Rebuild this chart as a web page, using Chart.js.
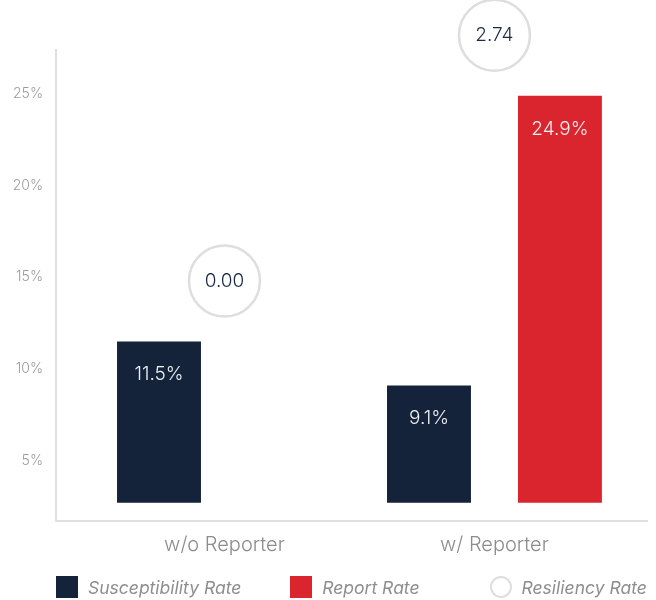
<!DOCTYPE html>
<html>
<head>
<meta charset="utf-8">
<script src="https://cdn.jsdelivr.net/npm/chart.js@4.4.1/dist/chart.umd.min.js"></script>
<style>
  body { margin: 0; background: #fff; }
  #wrap { position: relative; width: 656px; height: 600px; }
  #legend {
    position: absolute; left: 56px; top: 576px;
    display: flex; align-items: center;
    font-family: Inter, sans-serif; font-style: italic; font-size: 17.5px; color: #8e8e8e;
  }
  #legend .item { display: flex; align-items: center; height: 22px; }
  #legend .item:nth-child(2) { margin-left: 49px; }
  #legend .item:nth-child(3) { margin-left: 70px; }
  #legend .swatch { width: 22px; height: 22px; margin-right: 10px; box-sizing: border-box; }
</style>
</head>
<body>
<div id="wrap">
  <canvas id="myChart" width="656" height="600"></canvas>
  <div id="legend"></div>
</div>
<script>
// data
const categories = ['w/o Reporter', 'w/ Reporter'];
const susceptibilityRate = [11.5, 9.1];
const reportRate = [null, 24.9];
const resiliencyRate = [0.00, 2.74];
const yTicks = [5, 10, 15, 20, 25];

const NAVY = '#14233a';
const RED = '#da252f';
const BAR_BASE = 2.7;      // bars sit a little above the axis line
const BUBBLE_GAP = 3.3;    // bubble floats above the tallest bar of its group

function toPoints(values) {
  return values
    .map((v, i) => ({ x: i, y: v }))
    .filter(p => p.y !== null);
}

const bubblePoints = resiliencyRate.map((v, i) => ({
  x: i,
  y: Math.max(susceptibilityRate[i] || 0, reportRate[i] || 0) + BUBBLE_GAP
}));

// text inside the bars and the bubbles
const valueLabels = {
  id: 'valueLabels',
  afterDatasetsDraw(chart) {
    const ctx = chart.ctx;
    ctx.save();
    ctx.textAlign = 'center';
    ctx.textBaseline = 'middle';
    ctx.font = '300 19px Inter, sans-serif';
    chart.data.datasets.forEach((ds, i) => {
      const meta = chart.getDatasetMeta(i);
      meta.data.forEach((el, j) => {
        if (ds.type === 'bubble') {
          ctx.fillStyle = '#1c2b45';
          ctx.fillText(resiliencyRate[ds.data[j].x].toFixed(2), el.x, el.y);
        } else {
          ctx.fillStyle = '#eef0f4';
          ctx.fillText(ds.data[j].y.toFixed(1) + '%', el.x, el.y + 33);
        }
      });
    });
    ctx.restore();
  }
};

// html legend built from the datasets
const htmlLegend = {
  id: 'htmlLegend',
  afterUpdate(chart) {
    const box = document.getElementById('legend');
    box.innerHTML = '';
    chart.data.datasets.forEach(ds => {
      const item = document.createElement('div');
      item.className = 'item';
      const sw = document.createElement('span');
      sw.className = 'swatch';
      if (ds.type === 'bubble') {
        sw.style.border = '2.5px solid ' + ds.borderColor;
        sw.style.borderRadius = '50%';
        sw.style.background = ds.backgroundColor;
      } else {
        sw.style.background = ds.backgroundColor;
      }
      const txt = document.createElement('span');
      txt.textContent = ds.label;
      item.appendChild(sw);
      item.appendChild(txt);
      box.appendChild(item);
    });
  }
};

const ctx = document.getElementById('myChart').getContext('2d');

new Chart(ctx, {
  type: 'bar',
  data: {
    datasets: [
      {
        label: 'Susceptibility Rate',
        data: toPoints(susceptibilityRate),
        backgroundColor: NAVY,
        base: BAR_BASE,
        categoryPercentage: 0.97,
        barPercentage: 0.641
      },
      {
        label: 'Report Rate',
        data: toPoints(reportRate),
        backgroundColor: RED,
        base: BAR_BASE,
        categoryPercentage: 0.97,
        barPercentage: 0.641
      },
      {
        type: 'bubble',
        label: 'Resiliency Rate',
        data: bubblePoints,
        radius: 35.5,
        borderWidth: 2.5,
        borderColor: '#dedede',
        backgroundColor: '#ffffff',
        clip: false
      }
    ]
  },
  options: {
    responsive: false,
    animation: false,
    layout: {
      autoPadding: false,
      padding: { top: 50, right: 9, left: 0, bottom: 0 }
    },
    plugins: {
      legend: { display: false },
      tooltip: { enabled: false }
    },
    scales: {
      x: {
        type: 'linear',
        min: -0.624,
        max: 1.565,
        offset: false,
        grid: { display: false, drawTicks: false, offset: false },
        border: { display: true, color: '#e0e0e0', width: 2 },
        afterBuildTicks: scale => { scale.ticks = categories.map((c, i) => ({ value: i })); },
        afterFit: scale => {
          scale.height = 79;
          scale.paddingLeft = 0;
          scale.paddingRight = 0;
        },
        ticks: {
          padding: 12,
          color: '#8c8c8c',
          font: { family: 'Inter, sans-serif', size: 20, weight: 300 },
          callback: v => categories[v]
        }
      },
      y: {
        min: 1.7,
        max: 27.4,
        grid: { display: false, drawTicks: false },
        border: { display: true, color: '#e0e0e0', width: 2 },
        afterBuildTicks: scale => { scale.ticks = yTicks.map(v => ({ value: v })); },
        afterFit: scale => {
          scale.width = 56;
          scale.paddingTop = 0;
          scale.paddingBottom = 0;
        },
        ticks: {
          padding: 13,
          color: '#9a9a9a',
          font: { family: 'Inter, sans-serif', size: 14, weight: 300 },
          callback: v => v + '%'
        }
      }
    }
  },
  plugins: [valueLabels, htmlLegend]
});
</script>
</body>
</html>
